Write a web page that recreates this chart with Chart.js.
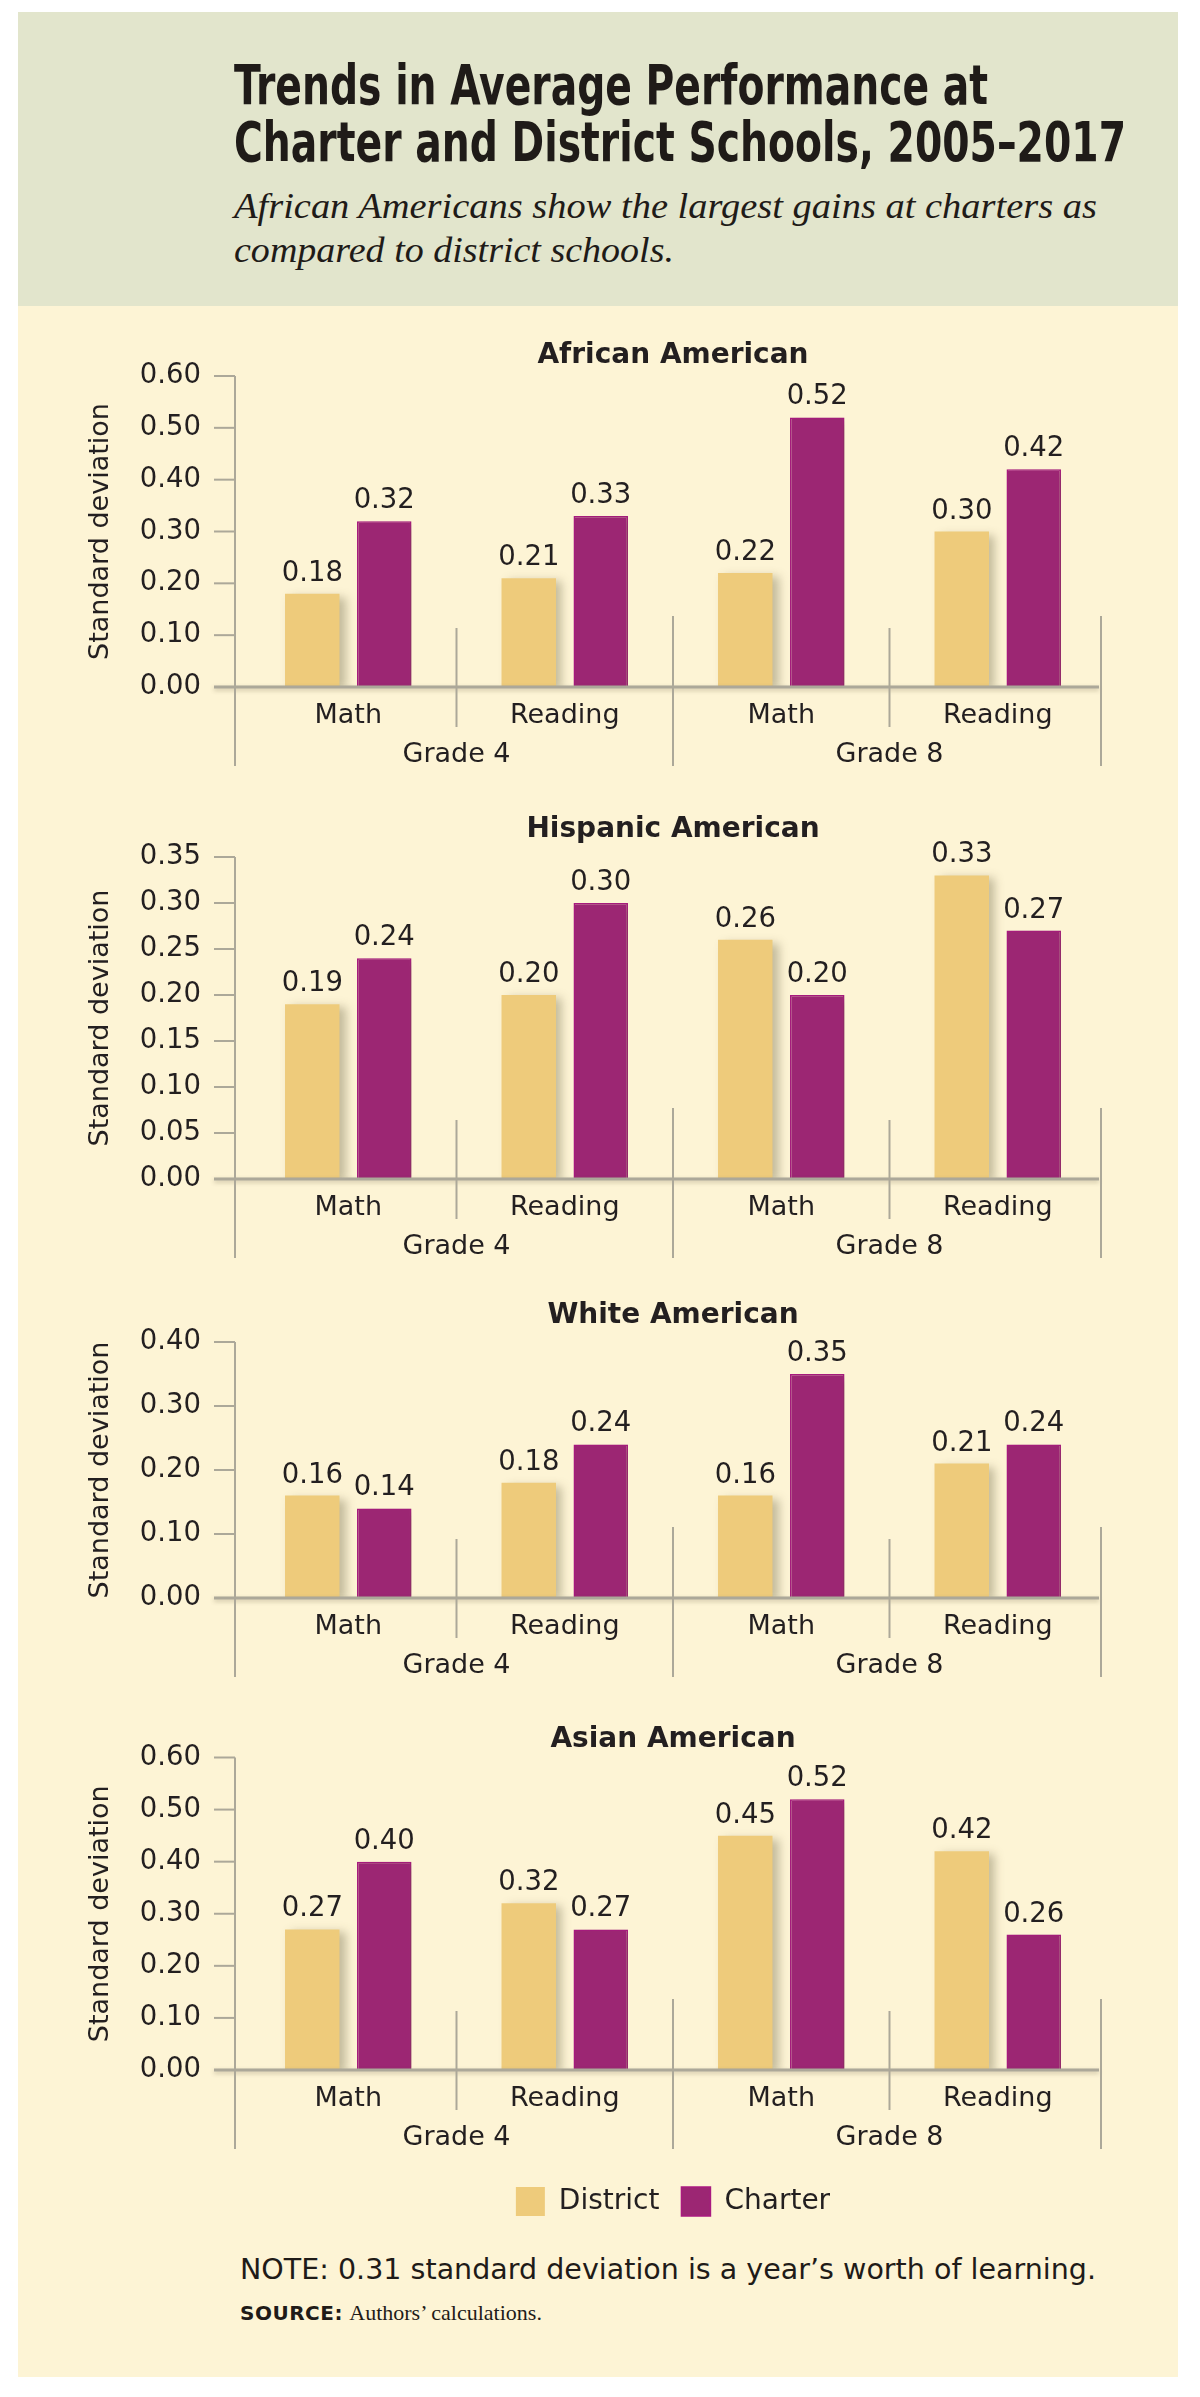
<!DOCTYPE html>
<html><head><meta charset="utf-8">
<script src="https://cdn.jsdelivr.net/npm/chart.js@4.4.1/dist/chart.umd.min.js"></script>
<style>
html,body{margin:0;padding:0;background:#fff;}
body{width:1200px;height:2397px;position:relative;overflow:hidden;}
#panel{position:absolute;left:18px;top:12px;width:1160px;height:2365px;background:#fdf4d5;}
#header{position:absolute;left:18px;top:12px;width:1160px;height:294px;background:#e2e5cc;}
.t{position:absolute;white-space:nowrap;transform-origin:0 0;color:#1f1b18;}
.title{font-family:'Liberation Sans Narrow','DejaVu Sans Condensed',sans-serif;font-weight:700;font-size:55px;line-height:55px;}
.sub{font-family:'Liberation Serif',serif;font-style:italic;font-size:35px;line-height:35px;}
.note{font-family:'DejaVu Sans',sans-serif;font-size:28.5px;line-height:28.5px;}
.src{font-family:'DejaVu Sans',sans-serif;font-size:20px;line-height:20px;}
.src b{letter-spacing:0.5px;}
.src span{font-family:'Liberation Serif',serif;font-size:22px;}
canvas{position:absolute;left:0;}
</style></head><body>
<div id="panel"></div>
<div id="header"></div>
<div class="t title" id="t1" style="left:234px;top:58px;">Trends in Average Performance at</div>
<div class="t title" id="t2" style="left:234px;top:115px;">Charter and District Schools, 2005–2017</div>
<div class="t sub" id="s1" style="left:234px;top:189px;">African Americans show the largest gains at charters as</div>
<div class="t sub" id="s2" style="left:234px;top:233px;">compared to district schools.</div>
<div class="t note" id="n1" style="left:240px;top:2256px;">NOTE: 0.31 standard deviation is a year’s worth of learning.</div>
<div class="t src" id="src" style="left:240px;top:2303px;"><b>SOURCE:</b> <span>Authors’ calculations.</span></div>

<canvas id="c1" width="1200" height="462" style="top:320px"></canvas>
<canvas id="c2" width="1200" height="480" style="top:794px"></canvas>
<canvas id="c3" width="1200" height="413" style="top:1280px"></canvas>
<canvas id="c4" width="1200" height="524" style="top:1702px"></canvas>

<script>
// ---- data ----
const subjects = ['Math', 'Reading', 'Math', 'Reading'];
const grades = ['Grade 4', 'Grade 8'];
const seriesNames = ['District', 'Charter'];
const groupTitles = ['African American', 'Hispanic American', 'White American', 'Asian American'];

const districtAfrican  = [0.18, 0.21, 0.22, 0.30];
const charterAfrican   = [0.32, 0.33, 0.52, 0.42];
const districtHispanic = [0.19, 0.20, 0.26, 0.33];
const charterHispanic  = [0.24, 0.30, 0.20, 0.27];
const districtWhite    = [0.16, 0.18, 0.16, 0.21];
const charterWhite     = [0.14, 0.24, 0.35, 0.24];
const districtAsian    = [0.27, 0.32, 0.45, 0.42];
const charterAsian     = [0.40, 0.27, 0.52, 0.26];

const yMaxes = [0.60, 0.35, 0.40, 0.60];
const ySteps = [0.10, 0.05, 0.10, 0.10];
const yAxisTitle = 'Standard deviation';

// ---- styling ----
const INK = '#231f20';
const LINE = '#aca899';
const DISTRICT = '#eecb7b';
const CHARTER = '#9c2673';
const CHARTER_EDGE = '#a91a80';
Chart.defaults.font.family = "'DejaVu Sans', sans-serif";
Chart.defaults.color = INK;

const decorPlugin = {
  id: 'decor',
  beforeDatasetsDraw(chart) {
    const c = chart.ctx; c.save();
    c.shadowColor = 'rgba(90,80,50,0.35)';
    c.shadowBlur = 9; c.shadowOffsetX = 6; c.shadowOffsetY = 3;
  },
  afterDatasetsDraw(chart) {
    const c = chart.ctx; c.restore();
    const xs = chart.scales.x, ys = chart.scales.y, a = chart.chartArea;
    const zero = ys.getPixelForValue(0);
    const axisX = a.left - 5, endX = a.right - 5;
    const line = (x1, y1, x2, y2) => { c.beginPath(); c.moveTo(x1, y1); c.lineTo(x2, y2); c.stroke(); };
    c.save();
    c.strokeStyle = LINE;
    c.lineWidth = 2;
    ys.ticks.forEach(t => {
      const y = ys.getPixelForValue(t.value);
      if (t.value !== 0) line(axisX - 21, y, axisX, y);
    });
    c.shadowColor = 'rgba(90,80,50,0.3)'; c.shadowBlur = 4; c.shadowOffsetY = 2;
    c.lineWidth = 3;
    line(axisX - 21, zero, endX - 2, zero);
    c.shadowColor = 'transparent';
    c.lineWidth = 2;
    line(axisX, a.top, axisX, zero + 79);
    const n = xs.ticks.length;
    const per = n / grades.length;
    for (let i = 0; i < n; i++) {
      const bx = i < n - 1 ? (xs.getPixelForValue(i) + xs.getPixelForValue(i + 1)) / 2 : endX;
      const tall = ((i + 1) % per === 0);
      line(bx, zero + (tall ? -71 : -59), bx, zero + (tall ? 79 : 40));
    }
    c.restore();
    // value labels
    c.save();
    c.fillStyle = INK;
    c.font = "27.5px 'DejaVu Sans', sans-serif";
    c.textAlign = 'center'; c.textBaseline = 'alphabetic';
    chart.data.datasets.forEach((ds, di) => {
      chart.getDatasetMeta(di).data.forEach((el, i) => {
        c.fillText(ds.data[i].toFixed(2), el.x, el.y - 13);
      });
    });
    c.restore();
  }
};

function makeChart(id, idx, district, charter, titlePadBottom, withLegend) {
  return new Chart(document.getElementById(id), {
    type: 'bar',
    data: {
      labels: subjects,
      datasets: [
        { label: seriesNames[0], data: district, backgroundColor: DISTRICT, borderColor: DISTRICT, borderWidth: 0,
          categoryPercentage: 0.665, barPercentage: 0.757, xAxisID: 'x' },
        { label: seriesNames[1], data: charter, backgroundColor: CHARTER, borderColor: CHARTER_EDGE, borderWidth: 1.5,
          categoryPercentage: 0.665, barPercentage: 0.757, xAxisID: 'x' }
      ]
    },
    options: {
      responsive: false, animation: false,
      layout: { padding: { left: 0, right: 94, top: 0, bottom: 0 } },
      plugins: {
        tooltip: { enabled: false },
        title: {
          display: true, text: groupTitles[idx], color: INK, fullSize: false,
          font: { size: 28, weight: 'bold', lineHeight: 31 / 28 },
          padding: { top: 20.5, bottom: titlePadBottom }
        },
        legend: withLegend ? {
          display: true, position: 'bottom', fullSize: false,
          labels: { boxWidth: 29, boxHeight: 29, padding: 22, color: INK, font: { size: 28 } }
        } : { display: false }
      },
      scales: {
        x: {
          type: 'category', position: 'bottom', weight: 0, offset: true,
          grid: { display: false, drawTicks: false }, border: { display: false },
          ticks: { padding: 15.5, autoSkip: false, maxRotation: 0, color: INK, font: { size: 27, lineHeight: 1 } },
          afterFit: s => { s.height = 50; }
        },
        x2: {
          type: 'category', position: 'bottom', weight: 1, offset: true, labels: grades,
          grid: { display: false, drawTicks: false }, border: { display: false },
          ticks: { padding: 4.5, autoSkip: false, maxRotation: 0, color: INK, font: { size: 27, lineHeight: 1 } },
          afterFit: s => { s.height = 45; }
        },
        y: {
          min: 0, max: yMaxes[idx],
          grid: { display: false, drawTicks: false },
          border: { display: false },
          ticks: { stepSize: ySteps[idx], padding: 39, autoSkip: false, color: INK, font: { size: 27.5 },
                   callback: v => Number(v).toFixed(2) },
          title: { display: true, text: yAxisTitle, color: INK, font: { size: 27, lineHeight: 1.2 },
                   padding: { top: 84.8, bottom: 0 } },
          afterFit: s => { s.width = 240; }
        }
      }
    },
    plugins: [decorPlugin]
  });
}

makeChart('c1', 0, districtAfrican, charterAfrican, 4.5, false);
makeChart('c2', 1, districtHispanic, charterHispanic, 11.5, false);
makeChart('c3', 2, districtWhite, charterWhite, 10.5, false);
makeChart('c4', 3, districtAsian, charterAsian, 2.5, true);

// fit header lines to measured widths of the original
function fit(id, w) {
  const el = document.getElementById(id);
  const cw = el.getBoundingClientRect().width;
  if (cw > 0) el.style.transform = 'scaleX(' + (w / cw) + ')';
}
fit('t1', 754); fit('t2', 892); fit('s1', 863); fit('s2', 440); fit('n1', 856);
</script>
</body></html>
